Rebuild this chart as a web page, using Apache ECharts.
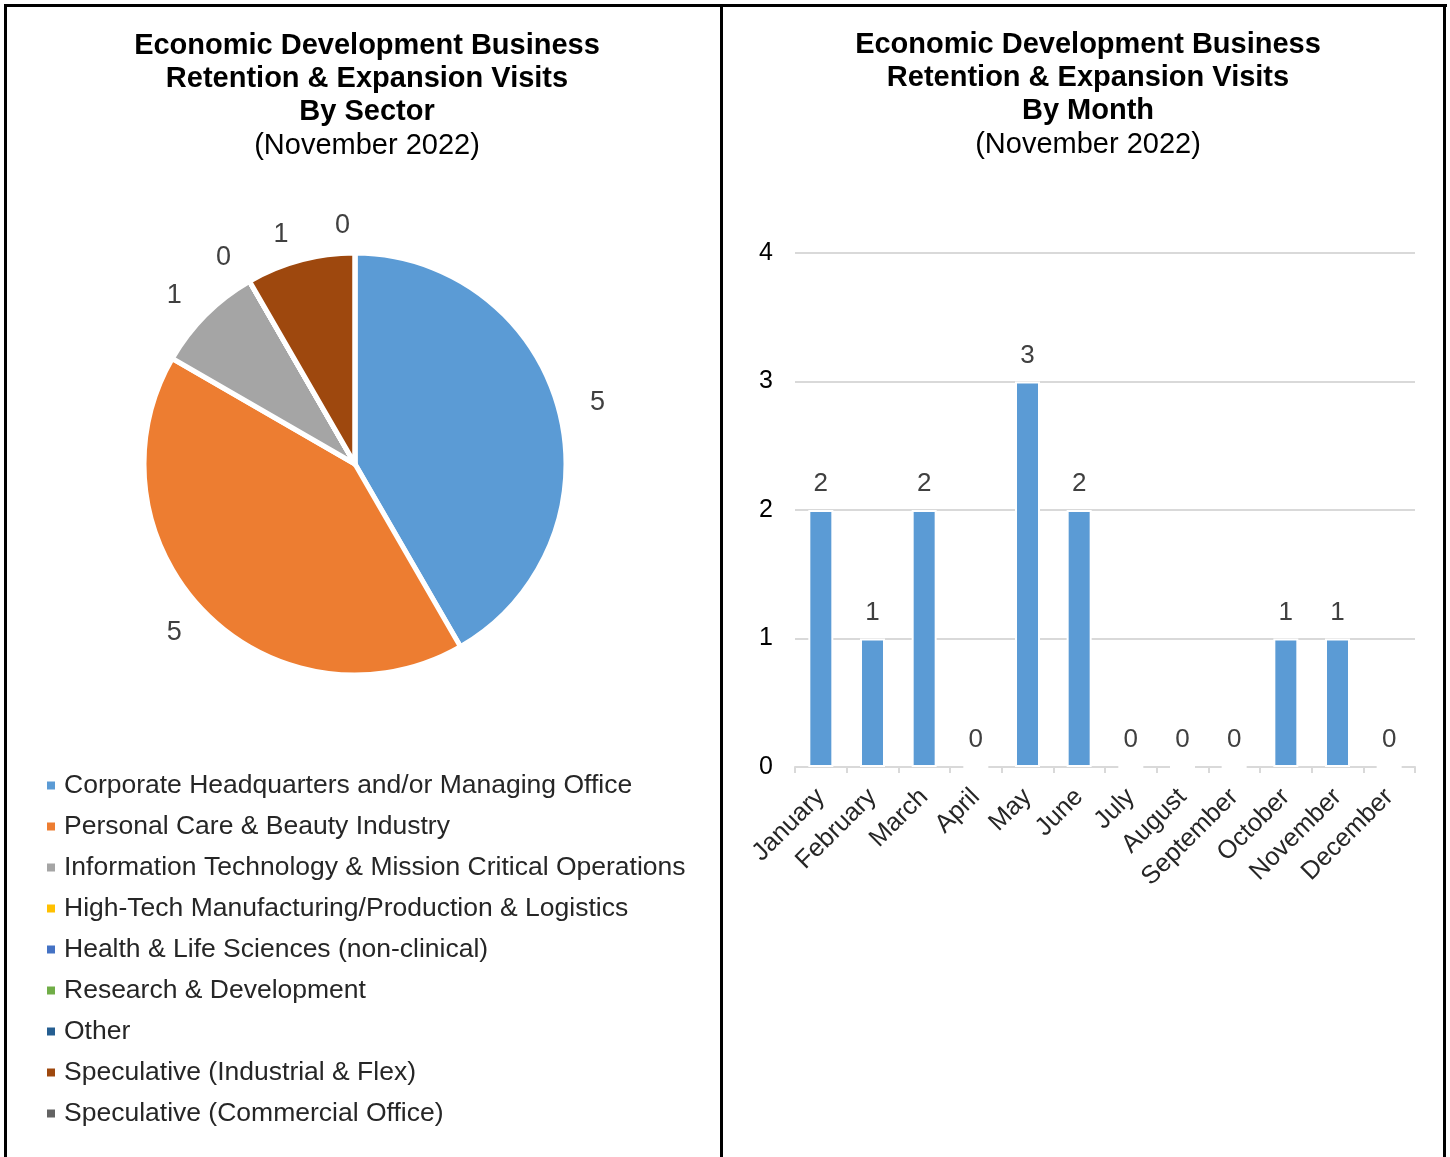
<!DOCTYPE html>
<html><head><meta charset="utf-8">
<script src="https://cdn.jsdelivr.net/npm/echarts@6/dist/echarts.min.js"></script>
<style>
html,body{margin:0;padding:0;background:#fff;}
#c{position:absolute;left:0;top:0;width:1450px;height:1157px;}
.ln{position:absolute;background:#000;}
</style></head>
<body>
<div id="c"></div>
<div class="ln" style="left:4px;top:4px;width:1443px;height:3px"></div>
<div class="ln" style="left:4px;top:4px;width:3px;height:1153px"></div>
<div class="ln" style="left:720px;top:4px;width:3px;height:1153px"></div>
<div class="ln" style="left:1443px;top:4px;width:3px;height:1153px"></div>
<script>
const sectorNames = [
  'Corporate Headquarters and/or Managing Office',
  'Personal Care & Beauty Industry',
  'Information Technology & Mission Critical Operations',
  'High-Tech Manufacturing/Production & Logistics',
  'Health & Life Sciences (non-clinical)',
  'Research & Development',
  'Other',
  'Speculative (Industrial & Flex)',
  'Speculative (Commercial Office)'
];
const sectorValues = [5, 5, 1, 0, 0, 0, 0, 1, 0];
const sectorColors = ['#5B9BD5','#ED7D31','#A5A5A5','#FFC000','#4472C4','#70AD47','#255E91','#9E480E','#636363'];
const months = ['January','February','March','April','May','June','July','August','September','October','November','December'];
const monthValues = [2, 1, 2, 0, 3, 2, 0, 0, 0, 1, 1, 0];
const yTicks = [0, 1, 2, 3, 4];

const FONT = '"Liberation Sans", Arial, sans-serif';
const chart = echarts.init(document.getElementById('c'), null, {renderer:'canvas'});

function titleOpt(center, top, sub){
  return {
    left: center, top: top, textAlign: 'center',
    text: '{b|Economic Development Business}\n{b|Retention & Expansion Visits}\n{b|' + sub + '}\n{n|(November 2022)}',
    textStyle: {
      fontFamily: FONT, fontWeight: 'normal',
      rich: {
        b: {fontFamily: FONT, fontSize: 29, fontWeight: 'bold', color: '#000', lineHeight: 33},
        n: {fontFamily: FONT, fontSize: 29, fontWeight: 'normal', color: '#000', lineHeight: 35}
      }
    }
  };
}

chart.setOption({
  animation: false,
  textStyle: {fontFamily: FONT},
  title: [titleOpt(362, 24, 'By Sector'), titleOpt(1083, 23, 'By Month')],
  legend: {
    orient: 'vertical', left: 45, top: 770, padding: 0,
    itemWidth: 10, itemHeight: 10, itemGap: 10, icon: 'rect',
    data: sectorNames,
    textStyle: {fontFamily: FONT, fontSize: 26.5, color: '#262626', lineHeight: 31, padding: [0,0,0,3]}
  },
  grid: {left: 795, right: 35, top: 253, bottom: 390},
  xAxis: {
    type: 'category', data: months,
    axisLine: {lineStyle: {color: '#D9D9D9', width: 2}},
    axisTick: {show: true, length: 6, lineStyle: {color: '#D9D9D9', width: 2}},
    axisLabel: {rotate: 45, fontFamily: FONT, fontSize: 25.5, color: '#262626', margin: 26}
  },
  yAxis: {
    type: 'value', min: yTicks[0], max: yTicks[yTicks.length-1], interval: 1,
    axisLine: {show: false}, axisTick: {show: false},
    splitLine: {lineStyle: {color: '#D9D9D9', width: 2}},
    axisLabel: {fontFamily: FONT, fontSize: 25, color: '#000', margin: 22}
  },
  series: [
    {
      type: 'pie', center: [355, 464], radius: 211,
      startAngle: 90, clockwise: true,
      avoidLabelOverlap: false, stillShowZeroSum: true,
      itemStyle: {borderColor: '#fff', borderWidth: 5},
      label: {show: true, position: 'outside', formatter: '{c}', fontFamily: FONT, fontSize: 27, color: '#404040'},
      labelLine: {show: false, length: 27, length2: 0},
      emphasis: {disabled: true},
      data: sectorNames.map((n, i) => ({name: n, value: sectorValues[i], itemStyle: {color: sectorColors[i]}}))
    },
    {
      type: 'bar', data: monthValues, barWidth: 25,
      itemStyle: {color: '#5B9BD5', borderColor: '#fff', borderWidth: 2},
      label: {show: true, position: 'top', distance: 13, fontFamily: FONT, fontSize: 26, color: '#404040'}
    }
  ]
});
</script>
</body></html>
